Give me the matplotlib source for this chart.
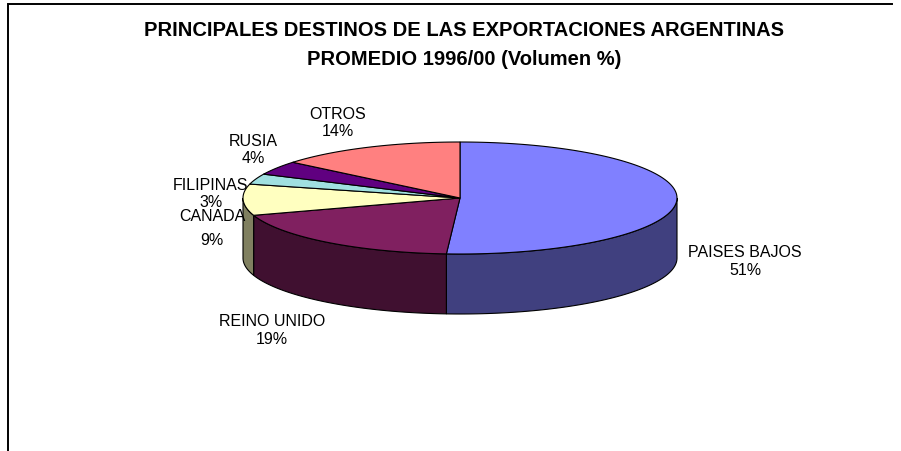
import numpy as np
import matplotlib.pyplot as plt
from matplotlib.patches import Polygon

plt.rcParams['font.family'] = ['Liberation Sans', 'DejaVu Sans']

# data
paises = ['PAISES BAJOS', 'REINO UNIDO', 'CANADA', 'FILIPINAS', 'RUSIA', 'OTROS']
porcentajes = [51, 19, 9, 3, 4, 14]
colores_top = ['#8080FF', '#802060', '#FFFFC0', '#A0E0E0', '#600080', '#FF8080']
colores_lado = ['#40407F', '#401030', '#808060', '#507070', '#300040', '#7F4040']

# label anchor positions (pixels) and line spacing
etiq_pos = [(745, 262), (272, 331), (212, 229), (211, 194), (253, 150), (338, 123)]
etiq_interl = [1.25, 1.25, 1.75, 1.2, 1.1, 1.2]

W, H = 901, 452
fig = plt.figure(figsize=(W / 100, H / 100), dpi=100)
ax = fig.add_axes([0, 0, 1, 1])
ax.set_xlim(0, W)
ax.set_ylim(H, 0)
ax.axis('off')

# pie geometry (pixels)
cx, cy = 460, 199
a, b = 217, 56
depth = 60

def pt(theta_deg, dy=0):
    t = np.radians(theta_deg)
    return cx + a * np.sin(t), cy - b * np.cos(t) + dy

frac = np.array(porcentajes) / sum(porcentajes)
bordes = np.concatenate([[0], np.cumsum(frac) * 360])

# side faces (front half only: 90..270 deg clockwise from top)
for i in range(len(paises)):
    t1, t2 = max(bordes[i], 90), min(bordes[i + 1], 270)
    if t2 <= t1:
        continue
    ts = np.linspace(t1, t2, 80)
    top = [pt(t) for t in ts]
    bot = [pt(t, depth) for t in ts[::-1]]
    ax.add_patch(Polygon(top + bot, closed=True, facecolor=colores_lado[i],
                         edgecolor='black', lw=0.8))

# top faces
for i in range(len(paises)):
    ts = np.linspace(bordes[i], bordes[i + 1], 120)
    verts = [(cx, cy)] + [pt(t) for t in ts]
    ax.add_patch(Polygon(verts, closed=True, facecolor=colores_top[i],
                         edgecolor='black', lw=0.8))

for i, nombre in enumerate(paises):
    x, y = etiq_pos[i]
    ax.text(x, y, f'{nombre}\n{porcentajes[i]}%', ha='center', va='center',
            fontsize=11.5, linespacing=etiq_interl[i])

ax.text(464, 45, 'PRINCIPALES DESTINOS DE LAS EXPORTACIONES ARGENTINAS\nPROMEDIO 1996/00 (Volumen %)',
        ha='center', va='center', fontsize=14.5, fontweight='bold', linespacing=1.65)

# chart frame
ax.plot([8, 8, 892], [H, 5, 5], color='black', lw=1.4, solid_joinstyle='miter')

fig.savefig('out.png', dpi=100)
